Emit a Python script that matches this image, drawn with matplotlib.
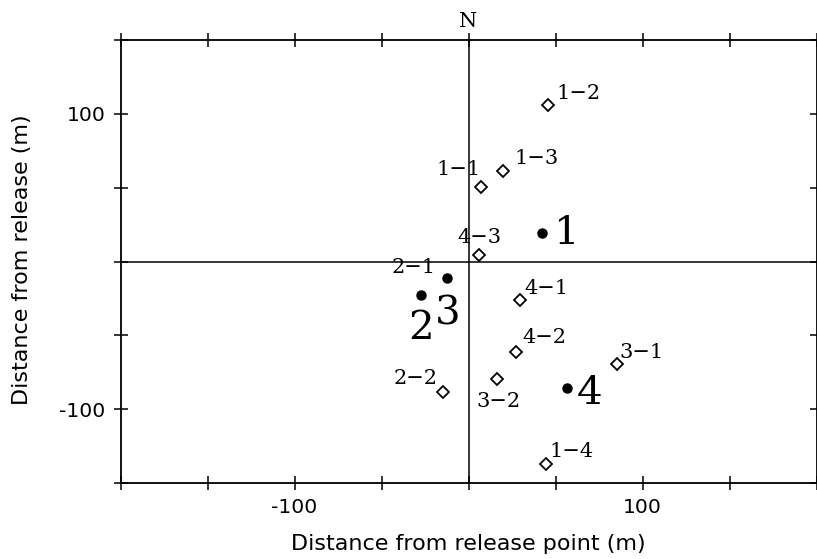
import matplotlib
matplotlib.use("Agg")
import matplotlib.pyplot as plt
import matplotlib.transforms as mtransforms

# Open-diamond recapture points
diamond_labels = ["1\u22121", "1\u22122", "1\u22123", "1\u22124", "2\u22122",
                  "3\u22121", "3\u22122", "4\u22121", "4\u22122", "4\u22123"]
diamond_x = [7.2, 45.8, 19.9, 44.7, -14.7, 85.6, 16.4, 29.7, 27.4, 6.1]
diamond_y = [50.5, 106.1, 61.4, -137.3, -88.5, -69.5, -79.7, -26.1, -61.4, 4.4]

# Filled centres
dot_labels = ["1", "2", "3", "4"]
dot_x = [42.4, -27.4, -12.4, 56.8]
dot_y = [19.3, -22.7, -11.2, -85.8]
extra_label = "2\u22121"   # label attached to dot 3

xticks = [-200, -150, -100, -50, 0, 50, 100, 150, 200]
yticks = [-150, -100, -50, 0, 50, 100, 150]
xtick_labels = ["", "", "-100", "", "", "", "100", "", ""]
ytick_labels = ["", "-100", "", "", "", "100", ""]

# label offsets in pixels (style)
d_off = {"1\u22121": (0, 12, "right"), "1\u22122": (8, 6, "left"), "1\u22123": (11, 7, "left"),
         "1\u22124": (3, 7, "left"), "2\u22122": (-5, 8, "right"), "3\u22121": (2, 6, "left"),
         "3\u22122": (1, -28, "center"), "4\u22121": (4, 6, "left"), "4\u22122": (6, 9, "left"),
         "4\u22123": (0, 12, "center")}
b_off = {"1": (11, -11, "left"), "2": (0, -44, "center"), "3": (1, -46, "center"), "4": (9, -16, "left")}

fig = plt.figure(figsize=(8.17, 5.59), dpi=100)
ax = fig.add_axes([120.5/817, 1-483/559, 696/817, 443/559])
ax.set_xlim(-200, 200)
ax.set_ylim(-150, 150)

ax.axvline(0, color="black", lw=1.1, zorder=1)
ax.axhline(0, color="black", lw=1.1, zorder=1)

ax.plot(diamond_x, diamond_y, linestyle="none", marker="D", ms=6, mfc="white",
        mec="black", mew=1.3, zorder=3)
ax.plot(dot_x, dot_y, linestyle="none", marker="o", ms=6.5, color="black", zorder=3)

serif = "DejaVu Serif"
for lab, x, y in zip(diamond_labels, diamond_x, diamond_y):
    dx, dy, ha = d_off[lab]
    ax.annotate(lab, (x, y), xytext=(dx, dy), textcoords="offset pixels",
                ha=ha, va="baseline", fontsize=15, family=serif)
for lab, x, y in zip(dot_labels, dot_x, dot_y):
    dx, dy, ha = b_off[lab]
    ax.annotate(lab, (x, y), xytext=(dx, dy), textcoords="offset pixels",
                ha=ha, va="baseline", fontsize=29, family=serif)
ax.annotate(extra_label, (dot_x[2], dot_y[2]), xytext=(-11, 5), textcoords="offset pixels",
            ha="right", va="baseline", fontsize=15, family=serif)

trans = mtransforms.blended_transform_factory(ax.transData, ax.transAxes)
ax.annotate("N", (0, 1), xycoords=trans, xytext=(0, 13), textcoords="offset pixels",
            ha="center", va="baseline", fontsize=15, family=serif)

ax.set_xticks(xticks)
ax.set_xticklabels(xtick_labels)
ax.set_yticks(yticks)
ax.set_yticklabels(ytick_labels)
ax.tick_params(direction="inout", length=10, width=1.1, top=True, right=True,
               labelsize=14.7, pad=6)
for s in ax.spines.values():
    s.set_linewidth(1.3)

ax.set_xlabel("Distance from release point (m)", fontsize=16)
ax.set_ylabel("Distance from release (m)", fontsize=16)
ax.xaxis.set_label_coords(0.5, -0.115)
ax.yaxis.set_label_coords(-0.127, 0.505)

fig.savefig("out.png", dpi=100)
